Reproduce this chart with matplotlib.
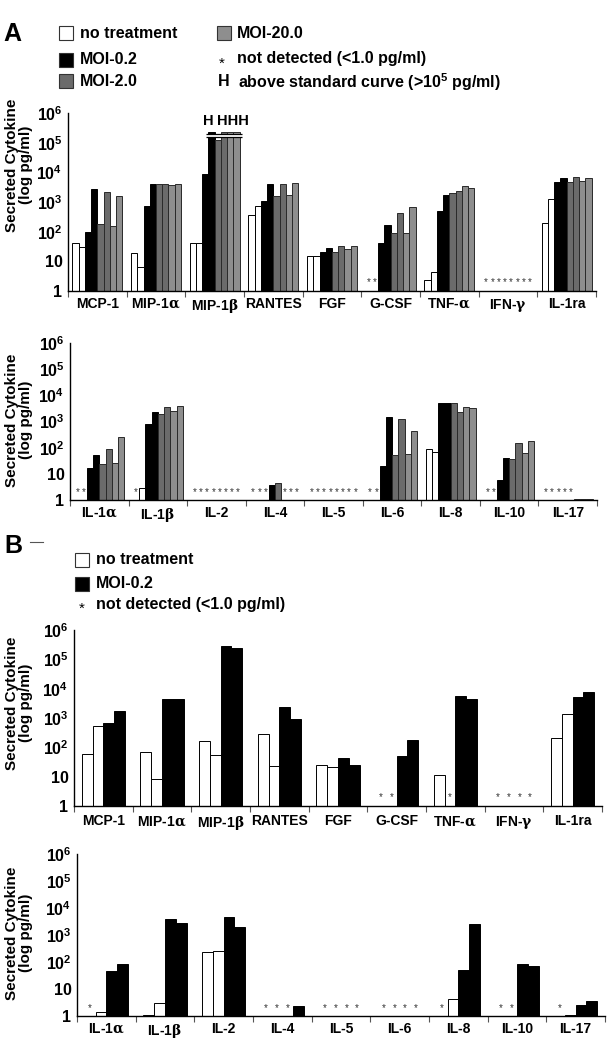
import numpy as np
import matplotlib
matplotlib.use('Agg')
import matplotlib.pyplot as plt
from matplotlib.patches import Rectangle
from matplotlib.lines import Line2D
from matplotlib.ticker import FixedLocator, NullLocator

plt.rcParams['font.family'] = ['Liberation Sans', 'DejaVu Sans']
plt.rcParams['font.weight'] = 'bold'
plt.rcParams['mathtext.fontset'] = 'custom'
plt.rcParams['mathtext.bf'] = 'Liberation Sans:bold'
plt.rcParams['mathtext.rm'] = 'DejaVu Serif'

ND = np.nan  # not detected (<1.0 pg/ml)

# ---- panel A (upper: chemokines etc., lower: interleukins) ----
a_top_cats = ['MCP-1', r'MIP-1$\mathrm{\alpha}$', r'MIP-1$\mathrm{\beta}$', 'RANTES', 'FGF',
              'G-CSF', r'TNF-$\mathrm{\alpha}$', r'IFN-$\mathrm{\gamma}$', 'IL-1ra']
a_top_none = [(40, 30), (18.5, 6.5), (40, 42), (370, 710), (15.4, 15.4),
              (ND, ND), (2.3, 4.4), (ND, ND), (193, 1240)]
a_top_moi02 = [(96, 2760), (755, 3900), (8900, 2.37e5), (1050, 4100), (21, 29),
               (40, 174), (480, 1780), (ND, ND), (4700, 6300)]
a_top_moi2 = [(180, 2140), (3900, 3900), (1.26e5, 2.37e5), (1560, 4200), (20, 32),
              (91, 415), (2040, 2360), (ND, ND), (4900, 6900)]
a_top_moi20 = [(157, 1650), (3600, 3900), (2.37e5, 2.37e5), (1740, 4400), (27, 33),
               (91, 695), (3500, 3080), (ND, ND), (5200, 6300)]

a_bot_cats = [r'IL-1$\mathrm{\alpha}$', r'IL-1$\mathrm{\beta}$', 'IL-2', 'IL-4', 'IL-5',
              'IL-6', 'IL-8', 'IL-10', 'IL-17']
a_bot_none = [(ND, ND), (ND, 3.0), (ND, ND), (ND, ND), (ND, ND),
              (ND, ND), (86, 70), (ND, ND), (ND, ND)]
a_bot_moi02 = [(16, 51), (800, 2400), (ND, ND), (ND, 3.6), (ND, ND),
               (20, 1520), (4930, 5200), (5.8, 41), (ND, ND)]
a_bot_moi2 = [(24, 86), (1870, 3470), (ND, ND), (4.5, ND), (ND, ND),
              (52, 1210), (5200, 2400), (36, 155), (ND, 1.1)]
a_bot_moi20 = [(25, 263), (2600, 3900), (ND, ND), (ND, ND), (ND, ND),
               (56, 445), (3700, 3180), (61, 180), (1.1, 1.1)]

# ---- panel B ----
b_top_none = [(61, 535), (69, 8.1), (160, 53), (293, 24), (25.7, 21),
              (ND, ND), (11.4, ND), (ND, ND), (213, 1370)]
b_top_moi02 = [(675, 1730), (4450, 4400), (2.8e5, 2.5e5), (2370, 950), (44.5, 25.7),
               (52, 173), (5630, 4340), (ND, ND), (5330, 7700)]
b_bot_none = [(ND, 1.45), (1.05, 3.1), (235, 250), (ND, ND), (ND, ND),
              (ND, ND), (ND, 4.4), (ND, ND), (ND, 1.05)]
b_bot_moi02 = [(45, 82), (3800, 2870), (4650, 1980), (ND, 2.35), (ND, ND),
               (ND, ND), (52, 2640), (82, 71), (2.5, 3.5)]

colors = ['white', 'black', '#6b6b6b', '#8e8e8e']
edges = ['black', 'black', '#2a2a2a', '#2a2a2a']

W, H = 612, 1050
fig = plt.figure(figsize=(W / 100, H / 100), dpi=100)


def px(x, y):
    return x / W, 1 - y / H


def axes_px(left, right, top, bottom):
    return fig.add_axes([left / W, 1 - bottom / H, (right - left) / W, (bottom - top) / H])


def bar_x(ci, j, n, width):
    return ci + (j - (n - 1) / 2) * width


def draw_panel(ax, cats, series, width, pad):
    n = len(series) * 2
    for ci in range(len(cats)):
        for si, s in enumerate(series):
            for r in range(2):
                j = si * 2 + r
                x = bar_x(ci, j, n, width)
                v = s[ci][r]
                if np.isnan(v):
                    ax.text(x, 1.95, '*', ha='center', va='center', fontsize=7,
                            fontweight='normal', color='#333333')
                else:
                    ax.bar(x, v - 1, bottom=1, width=width, color=colors[si],
                           edgecolor=edges[si], linewidth=0.7, zorder=2)
    ax.set_yscale('log')
    ax.set_ylim(1, 1e6)
    ax.set_xlim(-0.5, len(cats) - 0.5)
    for sp in ['top', 'right']:
        ax.spines[sp].set_visible(False)
    for sp in ['left', 'bottom']:
        ax.spines[sp].set_linewidth(1.0)
    ax.yaxis.set_major_locator(FixedLocator([1, 10, 1e2, 1e3, 1e4, 1e5, 1e6]))
    ax.yaxis.set_minor_locator(NullLocator())
    ax.set_yticklabels(['1', '10'] + [r'$\mathbf{10^{%d}}$' % k for k in range(2, 7)],
                       fontsize=11.5)
    ax.tick_params(axis='y', length=0, pad=4)
    ax.set_xticks(range(len(cats)))
    ax.set_xticklabels(cats, fontsize=10)
    ax.set_xticks(np.arange(-0.5, len(cats)), minor=True)
    ax.tick_params(axis='x', which='major', length=0, pad=pad)
    ax.tick_params(axis='x', which='minor', length=4, width=0.8, color='#555555')


def ylabel(yc):
    fig.text(*px(19, yc), 'Secreted Cytokine\n(log pg/ml)', rotation=90,
             ha='center', va='center', fontsize=11, linespacing=1.0)


# panel A top
ax1 = axes_px(68, 596, 113, 291)
draw_panel(ax1, a_top_cats, [a_top_none, a_top_moi02, a_top_moi2, a_top_moi20], 0.1065, 4)
# break marks for bars above standard curve (MIP-1b)
xl = bar_x(2, 3, 8, 0.1065) - 0.1
xr = bar_x(2, 7, 8, 0.1065) + 0.1
ax1.fill_between([xl, xr], 1.53e5, 1.98e5, color='white', zorder=3, linewidth=0)
ax1.hlines([1.53e5, 1.98e5], xl, xr, color='black', linewidth=0.9, zorder=4)
ax1.text(bar_x(2, 3, 8, 0.1065) - 0.05, 5.5e5, 'H', ha='center', va='center', fontsize=10.5)
ax1.text(bar_x(2, 6, 8, 0.1065) + 0.05, 5.5e5, 'HHH', ha='center', va='center', fontsize=10.5)
ylabel(165)

# panel A bottom
ax2 = axes_px(70, 597, 343, 500)
draw_panel(ax2, a_bot_cats, [a_bot_none, a_bot_moi02, a_bot_moi2, a_bot_moi20], 0.1065, 4)
ylabel(420)

# panel B top
ax3 = axes_px(74, 602, 630, 806)
draw_panel(ax3, a_top_cats, [b_top_none, b_top_moi02], 0.184, 6)
ylabel(703)

# panel B bottom
ax4 = axes_px(77, 605, 854, 1016)
draw_panel(ax4, a_bot_cats, [b_bot_none, b_bot_moi02], 0.184, 4)
ylabel(933)

# panel letters
fig.text(*px(3, 34), 'A', fontsize=18, ha='left', va='center')
fig.text(*px(4, 546), 'B', fontsize=18, ha='left', va='center')
fig.add_artist(Line2D([30 / W, 43 / W], [1 - 542 / H, 1 - 542 / H], color='#555555', linewidth=0.8))


def legend_box(x0, y0, size, color):
    fig.add_artist(Rectangle(px(x0, y0 + size), size / W, size / H, facecolor=color,
                             edgecolor='#333333', linewidth=0.8))


# legend A
legend_box(59, 26, 13.5, colors[0])
legend_box(59, 53, 13.5, colors[1])
legend_box(59, 74, 13.5, colors[2])
legend_box(217, 26, 13.5, colors[3])
fig.text(*px(80, 33), 'no treatment', fontsize=11.5, va='center')
fig.text(*px(80, 59), 'MOI-0.2', fontsize=11.5, va='center')
fig.text(*px(80, 81), 'MOI-2.0', fontsize=11.5, va='center')
fig.text(*px(237, 33), 'MOI-20.0', fontsize=11.5, va='center')
fig.text(*px(219, 64), '*', fontsize=11, fontweight='normal', va='center')
fig.text(*px(237, 59), 'not detected (<1.0 pg/ml)', fontsize=11.5, va='center')
fig.text(*px(218, 82), 'H', fontsize=11.5, va='center')
fig.text(*px(238, 82), r'above standard curve (>10$^{\mathbf{5}}$ pg/ml)', fontsize=11.5, va='center')

# legend B
legend_box(75, 553, 13.5, colors[0])
legend_box(75, 577, 13.5, colors[1])
fig.text(*px(96, 560), 'no treatment', fontsize=11.5, va='center')
fig.text(*px(96, 584), 'MOI-0.2', fontsize=11.5, va='center')
fig.text(*px(79, 609), '*', fontsize=11, fontweight='normal', va='center')
fig.text(*px(96, 604), 'not detected (<1.0 pg/ml)', fontsize=11.5, va='center')

fig.savefig('out.png', dpi=100)
